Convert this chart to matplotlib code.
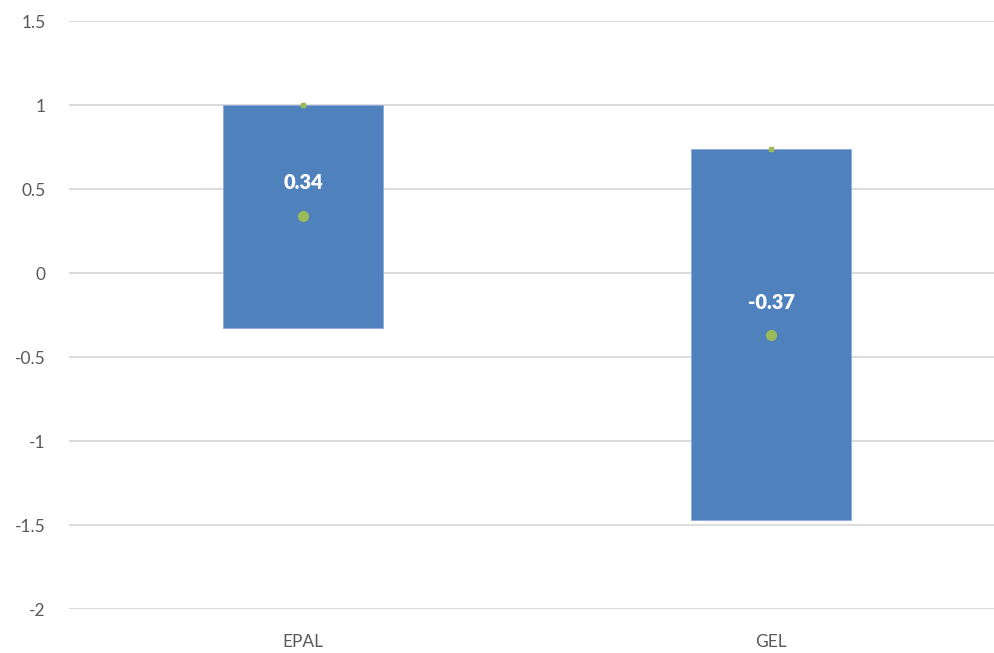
import matplotlib
matplotlib.use("Agg")
import matplotlib.pyplot as plt

categories = ["EPAL", "GEL"]
low_values = [-0.33, -1.47]
high_values = [1.0, 0.74]
mean_values = [0.34, -0.37]
mean_labels = ["0.34", "-0.37"]
y_ticks = [-2, -1.5, -1, -0.5, 0, 0.5, 1, 1.5]
y_tick_labels = ["-2", "-1.5", "-1", "-0.5", "0", "0.5", "1", "1.5"]

plt.rcParams["font.family"] = ["Lato", "DejaVu Sans"]

fig = plt.figure(figsize=(9.94, 6.53), dpi=100)
ax = fig.add_axes([69 / 994, 44 / 653, 925 / 994, 588 / 653])

x = list(range(len(categories)))
heights = [h - l for h, l in zip(high_values, low_values)]
ax.bar(x, heights, bottom=low_values, width=0.342, color="#4F81BD",
       edgecolor="#8EAADB", linewidth=0.6, zorder=3)

# range top markers and mean points
ax.plot(x, high_values, linestyle="none", marker="s", markersize=2.5,
        color="#9BBB59", zorder=4)
ax.plot(x, mean_values, linestyle="none", marker="o", markersize=7,
        color="#9BBB59", zorder=4)

for xi, m, lab in zip(x, mean_values, mean_labels):
    ax.annotate(lab, (xi, m), xytext=(0, 17), textcoords="offset points",
                ha="center", va="bottom", color="white", fontsize=14.5,
                fontweight="heavy", zorder=5)

ax.set_xlim(-0.5, 1.476)
ax.set_ylim(-2, 1.5)
ax.set_yticks(y_ticks)
ax.set_yticklabels(y_tick_labels)
ax.set_xticks(x)
ax.set_xticklabels(categories)
ax.grid(axis="y", color="#D9D9D9", linewidth=1.3, zorder=0)
ax.set_axisbelow(True)
for s in ax.spines.values():
    s.set_visible(False)
ax.tick_params(axis="y", length=0, pad=17, labelsize=12.5, labelcolor="#595959")
ax.tick_params(axis="x", length=0, pad=18, labelsize=12.5, labelcolor="#595959")

fig.savefig("out.png", dpi=100)
